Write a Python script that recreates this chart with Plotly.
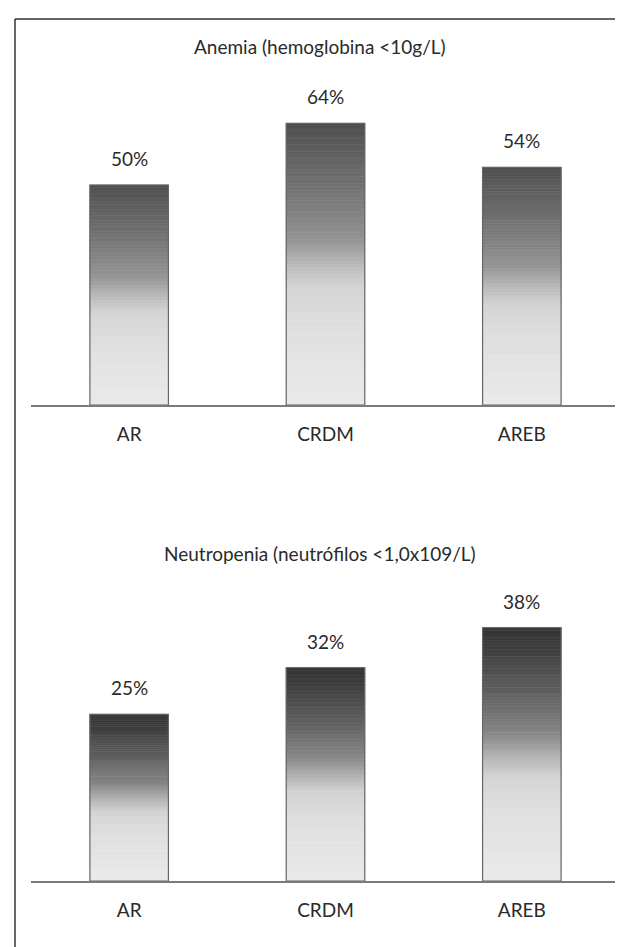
import plotly.graph_objects as go

categories = ["AR", "CRDM", "AREB"]
anemia_values = [50, 64, 54]
neutro_values = [25, 32, 38]
anemia_title = "Anemia (hemoglobina <10g/L)"
neutro_title = "Neutropenia (neutrófilos <1,0x109/L)"

W, H = 623, 947
FONT = "Lato"
FS = 19
TXT = "#2a2a2a"
N = 80

# gradient stops: (fraction from bottom, grey level)
stops_top = [(0.0, 234), (0.3, 222), (0.42, 212), (0.5, 185), (0.58, 150), (0.75, 118), (0.92, 92), (1.0, 78)]
stops_bot = [(0.0, 234), (0.3, 222), (0.42, 210), (0.5, 175), (0.58, 135), (0.75, 95), (0.92, 62), (1.0, 52)]


def grey(t, stops):
    for (a, ga), (b, gb) in zip(stops[:-1], stops[1:]):
        if a <= t <= b:
            g = int(round(ga + (gb - ga) * (t - a) / (b - a)))
            return f"rgb({g},{g},{g})"
    g = stops[-1][1]
    return f"rgb({g},{g},{g})"


fig = go.Figure()


def add_bars(vals, xa, ya, stops):
    for k in range(N):
        t = (k + 0.5) / N
        c = grey(t, stops)
        fig.add_trace(go.Bar(
            x=categories, y=[v / N for v in vals], base=[v * k / N for v in vals],
            marker=dict(color=c, line=dict(color=c, width=0.6)),
            width=0.4, xaxis=xa, yaxis=ya, showlegend=False, hoverinfo="skip"))
    fig.add_trace(go.Bar(
        x=categories, y=vals, base=[0] * len(vals),
        marker=dict(color="rgba(0,0,0,0)", line=dict(color="#666", width=1.2)),
        width=0.4, xaxis=xa, yaxis=ya, showlegend=False, hoverinfo="skip"))
    for c, v in zip(categories, vals):
        fig.add_annotation(x=c, y=v, xref=xa, yref=ya, text=f"{v}%", showarrow=False,
                           yanchor="bottom", yshift=13,
                           font=dict(family=FONT, size=FS, color=TXT))


add_bars(anemia_values, "x", "y", stops_top)
add_bars(neutro_values, "x2", "y2", stops_bot)

xdom = [23 / W, 612 / W]
axis_common = dict(showline=True, linecolor="#7a7a7a", linewidth=2, ticks="", showgrid=False,
                   zeroline=False, tickfont=dict(family=FONT, size=FS, color=TXT),
                   ticklabelstandoff=11, range=[-0.5, 2.5], fixedrange=True)

fig.update_layout(
    width=W, height=H, margin=dict(l=0, r=0, t=0, b=0),
    paper_bgcolor="white", plot_bgcolor="white", barmode="overlay",
    xaxis=dict(domain=xdom, anchor="y", **axis_common),
    xaxis2=dict(domain=xdom, anchor="y2", **axis_common),
    yaxis=dict(domain=[1 - 397 / H, 1 - 89 / H], range=[0, 70], visible=False, anchor="x"),
    yaxis2=dict(domain=[1 - 873 / H, 1 - 573 / H], range=[0, 45], visible=False, anchor="x2"),
    showlegend=False,
)

fig.add_annotation(x=312 / W, y=1 - 38 / H, xref="paper", yref="paper", text=anemia_title,
                   showarrow=False, yanchor="middle", font=dict(family=FONT, size=FS, color=TXT))
fig.add_annotation(x=312 / W, y=1 - 545 / H, xref="paper", yref="paper", text=neutro_title,
                   showarrow=False, yanchor="middle", font=dict(family=FONT, size=FS, color=TXT))

# frame
fig.add_shape(type="line", xref="paper", yref="paper", x0=7 / W, x1=7 / W, y0=0, y1=1 - 11 / H,
              line=dict(color="#333", width=1.5))
fig.add_shape(type="line", xref="paper", yref="paper", x0=7 / W, x1=1, y0=1 - 11 / H, y1=1 - 11 / H,
              line=dict(color="#333", width=1.5))

fig.write_html("out.html")
